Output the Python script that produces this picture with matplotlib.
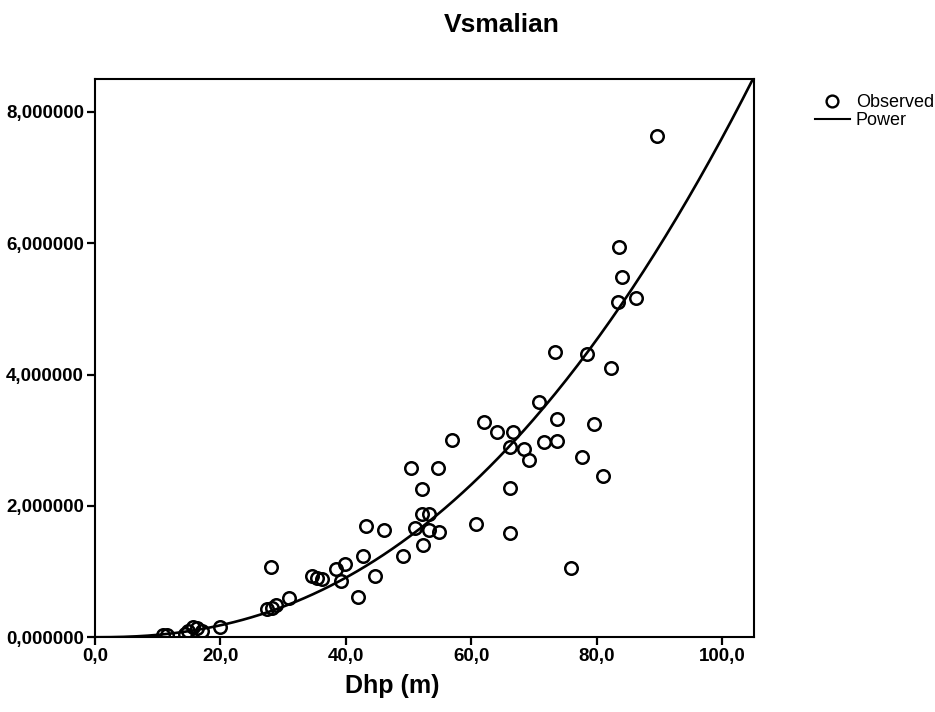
#!/usr/bin/env python3

import numpy as np
import matplotlib
matplotlib.use('Agg')
from matplotlib import pyplot as plt
from matplotlib.lines import Line2D


title = 'Vsmalian'
x_label = 'Dhp (m)'

# observed points
dhp = [10.8, 11.4, 14.3, 14.9, 15.6, 16.2, 17.0, 19.9,
       28.0, 27.5, 28.25, 28.9, 31.0, 34.6, 35.4, 36.2,
       38.4, 39.9, 39.2, 41.9, 42.8, 44.7, 43.2, 46.0,
       49.1, 50.3, 54.7, 52.1, 52.1, 53.3, 51.0, 53.2,
       54.8, 52.3, 56.9, 60.8, 62.0, 64.1, 66.6, 66.1,
       66.2, 66.1, 68.4, 69.2, 70.8, 73.7, 71.6, 73.7,
       75.9, 77.7, 83.6, 84.0, 83.4, 86.2, 73.4, 78.4,
       82.3, 79.6, 81.0, 89.6]
vol = [0.04, 0.03, 0.05, 0.09, 0.16, 0.14, 0.10, 0.16,
       1.07, 0.43, 0.45, 0.49, 0.60, 0.93, 0.90, 0.88,
       1.04, 1.12, 0.86, 0.62, 1.23, 0.94, 1.69, 1.64,
       1.24, 2.58, 2.58, 2.26, 1.88, 1.87, 1.67, 1.64,
       1.60, 1.41, 3.00, 1.73, 3.28, 3.12, 3.12, 2.89,
       2.28, 1.58, 2.87, 2.70, 3.58, 3.33, 2.98, 2.99,
       1.06, 2.75, 5.94, 5.48, 5.11, 5.16, 4.35, 4.31,
       4.10, 3.25, 2.46, 7.64]

# power model y = a * x^b
power_a = 1.743e-4
power_b = 2.32

x_ticks = [0, 20, 40, 60, 80, 100]
y_ticks = [0, 2, 4, 6, 8]

plt.rcParams['font.family'] = ['Liberation Sans', 'DejaVu Sans']

fig = plt.figure(figsize=(9.35, 7.12), dpi=100)
ax = fig.add_axes([0.1016, 0.105, 0.7044, 0.784])

ax.plot(dhp, vol, 'o', markersize=9, markerfacecolor='none',
        markeredgecolor='black', markeredgewidth=1.8, zorder=3)

xs = np.linspace(0, 105, 300)
ax.plot(xs, power_a * xs ** power_b, color='black', linewidth=1.9, zorder=2)

ax.set_xlim(0, 105)
ax.set_ylim(0, 8.5)
ax.set_xticks(x_ticks)
ax.set_yticks(y_ticks)
ax.set_xticklabels([f'{v:.1f}'.replace('.', ',') for v in x_ticks])
ax.set_yticklabels([f'{v:.6f}'.replace('.', ',') for v in y_ticks])
ax.tick_params(direction='out', length=6, width=1.6, labelsize=13.5, pad=2)
for lbl in ax.get_xticklabels() + ax.get_yticklabels():
    lbl.set_fontweight('bold')
for s in ax.spines.values():
    s.set_linewidth(1.5)

fig.text(0.537, 0.965, title, ha='center', va='center',
         fontsize=19, fontweight='bold')
fig.text(0.419, 0.036, x_label, ha='center', va='center',
         fontsize=18, fontweight='bold')

handles = [Line2D([], [], marker='o', linestyle='none', markersize=8.5,
                  markerfacecolor='none', markeredgecolor='black',
                  markeredgewidth=1.7),
           Line2D([], [], color='black', linewidth=1.5)]
fig.legend(handles, ['Observed', 'Power'], loc='upper left',
           bbox_to_anchor=(0.872, 0.868), frameon=False, fontsize=13,
           handlelength=1.9, handletextpad=0.35, labelspacing=0.05,
           borderaxespad=0, borderpad=0)

fig.savefig('out.png', dpi=100)
